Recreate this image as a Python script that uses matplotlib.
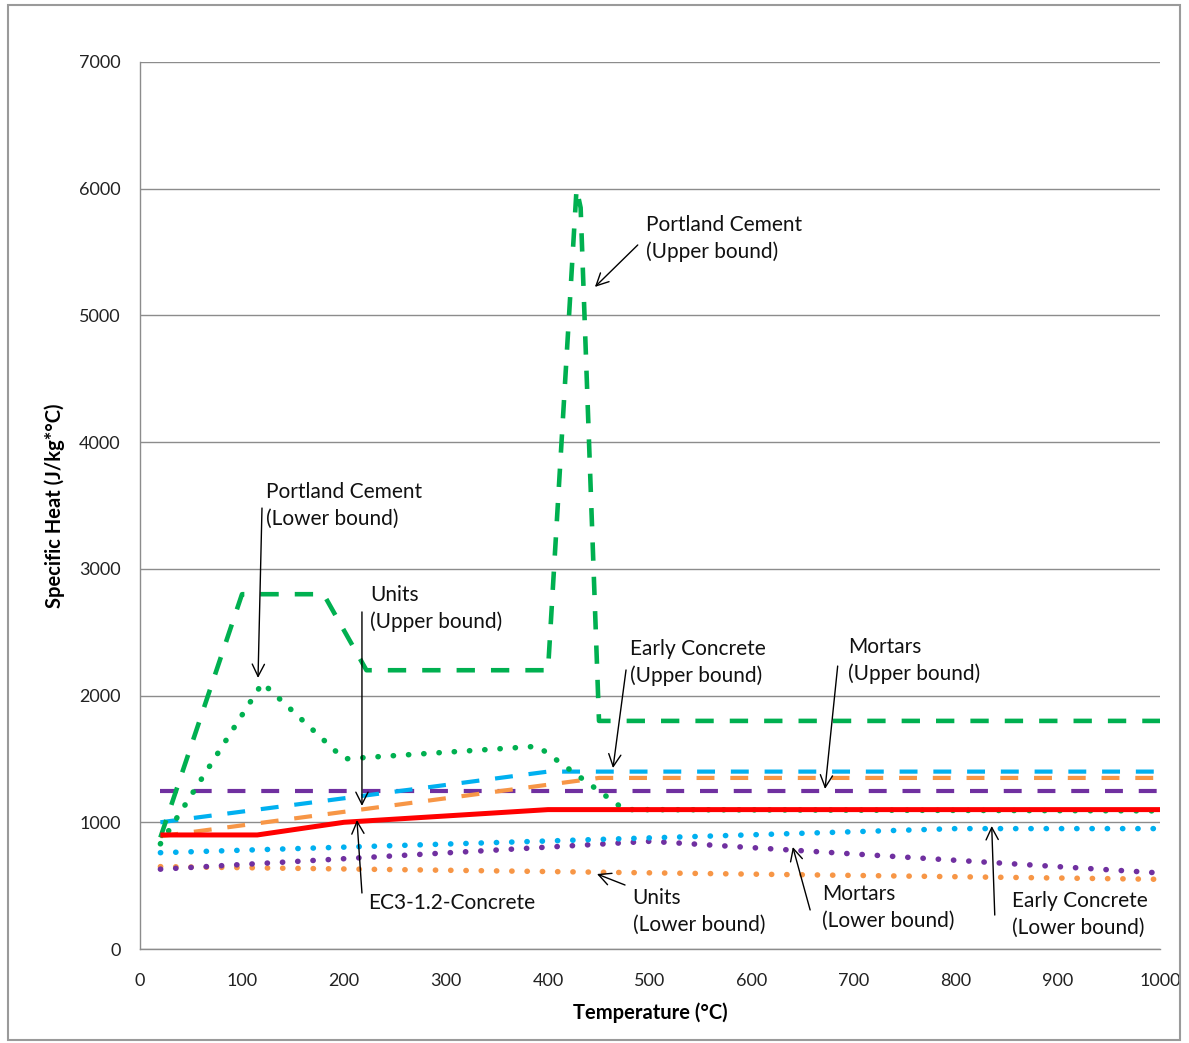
import matplotlib.pyplot as plt
from matplotlib.patches import Rectangle

plt.rcParams["font.family"] = ["Lato", "DejaVu Sans"]

# Specific heat vs temperature for masonry materials (J/kg*°C)
temp_ec3 = [20, 115, 200, 400, 1000]
cp_ec3 = [900, 900, 1000, 1100, 1100]

temp_units_up = [20, 450, 1000]
cp_units_up = [890, 1350, 1350]
temp_units_lo = [20, 1000]
cp_units_lo = [650, 550]

temp_early_up = [20, 400, 1000]
cp_early_up = [1000, 1400, 1400]
temp_early_lo = [20, 800, 1000]
cp_early_lo = [760, 950, 950]

temp_mortar_up = [20, 1000]
cp_mortar_up = [1250, 1250]
temp_mortar_lo = [20, 500, 1000]
cp_mortar_lo = [630, 850, 600]

temp_pc_up = [20, 100, 180, 222, 400, 428, 432, 450, 1000]
cp_pc_up = [880, 2800, 2800, 2200, 2200, 6000, 5850, 1800, 1800]
temp_pc_lo = [20, 120, 200, 390, 475, 1000]
cp_pc_lo = [830, 2100, 1500, 1600, 1100, 1090]

x_ticks = [0, 100, 200, 300, 400, 500, 600, 700, 800, 900, 1000]
y_ticks = [0, 1000, 2000, 3000, 4000, 5000, 6000, 7000]

GREEN = "#00B050"
BLUE = "#00B0F0"
ORANGE = "#F79646"
PURPLE = "#7030A0"
RED = "#FF0000"

DASH = dict(lw=3.0, dashes=(4.3, 3.8), dash_capstyle="butt")
DOT = dict(lw=4.0, dashes=(0.05, 2.7), dash_capstyle="round")

fig = plt.figure(figsize=(11.89, 10.43), dpi=100)
ax = fig.add_axes([140 / 1189, 1 - 949 / 1043, 1020 / 1189, 887 / 1043])

ax.plot(temp_mortar_up, cp_mortar_up, color=PURPLE, **DASH)
ax.plot(temp_early_up, cp_early_up, color=BLUE, **DASH)
ax.plot(temp_units_up, cp_units_up, color=ORANGE, **DASH)
ax.plot(temp_units_lo, cp_units_lo, color=ORANGE, **DOT)
ax.plot(temp_mortar_lo, cp_mortar_lo, color=PURPLE, **DOT)
ax.plot(temp_early_lo, cp_early_lo, color=BLUE, **DOT)
ax.plot(temp_pc_lo, cp_pc_lo, color=GREEN, **DOT)
ax.plot(temp_pc_up, cp_pc_up, color=GREEN, lw=3.3, dashes=(4.0, 3.5), dash_capstyle="butt")
ax.plot(temp_ec3, cp_ec3, color=RED, lw=3.6, solid_capstyle="butt")

ax.set_xlim(0, 1000)
ax.set_ylim(0, 7000)
ax.set_xticks(x_ticks)
ax.set_yticks(y_ticks)
ax.tick_params(length=0, labelsize=13, pad=14, colors="#222222")
ax.tick_params(axis="x", pad=17)
ax.yaxis.grid(True, color="#8c8c8c", lw=1.0)
ax.set_axisbelow(True)
for side in ("top", "right"):
    ax.spines[side].set_visible(False)
for side in ("left", "bottom"):
    ax.spines[side].set_color("#8c8c8c")
    ax.spines[side].set_linewidth(1.0)

ax.set_xlabel("Temperature (\u00b0C)", fontsize=14.5, fontweight="bold", labelpad=10)
ax.set_ylabel("Specific Heat (J/kg*\u00b0C)", fontsize=14.5, fontweight="bold", labelpad=10)

# label text (left x, centre y) and arrow (tail -> head), in data units
notes = [
    ("Portland Cement\n(Upper bound)", (496, 5607), (488, 5556), (446, 5225)),
    ("Portland Cement\n(Lower bound)", (123.5, 3500), (119.6, 3480), (115.7, 2139)),
    ("Units\n(Upper bound)", (225.5, 2687), (217.6, 2660), (217.6, 1129)),
    ("Early Concrete\n(Upper bound)", (480.4, 2261), (476.5, 2202), (463.7, 1428)),
    ("Mortars\n(Upper bound)", (694, 2277), (684, 2233), (671.6, 1263)),
    ("EC3-1.2-Concrete", (223.5, 363), (217.6, 442), (212.7, 1018)),
    ("Units\n(Lower bound)", (483, 296), (475.5, 505), (448, 592)),
    ("Mortars\n(Lower bound)", (668.6, 327), (657, 308), (640, 805)),
    ("Early Concrete\n(Lower bound)", (855, 272), (838, 268), (835, 971)),
]
for label, pos, tail, head in notes:
    ax.text(pos[0], pos[1], label, ha="left", va="center", fontsize=15,
            linespacing=1.4, color="#111111")
    ax.annotate("", xy=head, xytext=tail,
                arrowprops=dict(arrowstyle="->", lw=1.0, color="black",
                                shrinkA=0, shrinkB=0, mutation_scale=22))

fig.patches.append(Rectangle((8 / 1189, 1 - 1040 / 1043), 1172 / 1189, 1035 / 1043,
                             transform=fig.transFigure, fill=False,
                             edgecolor="#9a9a9a", lw=1.5))

fig.savefig("out.png", dpi=100)
